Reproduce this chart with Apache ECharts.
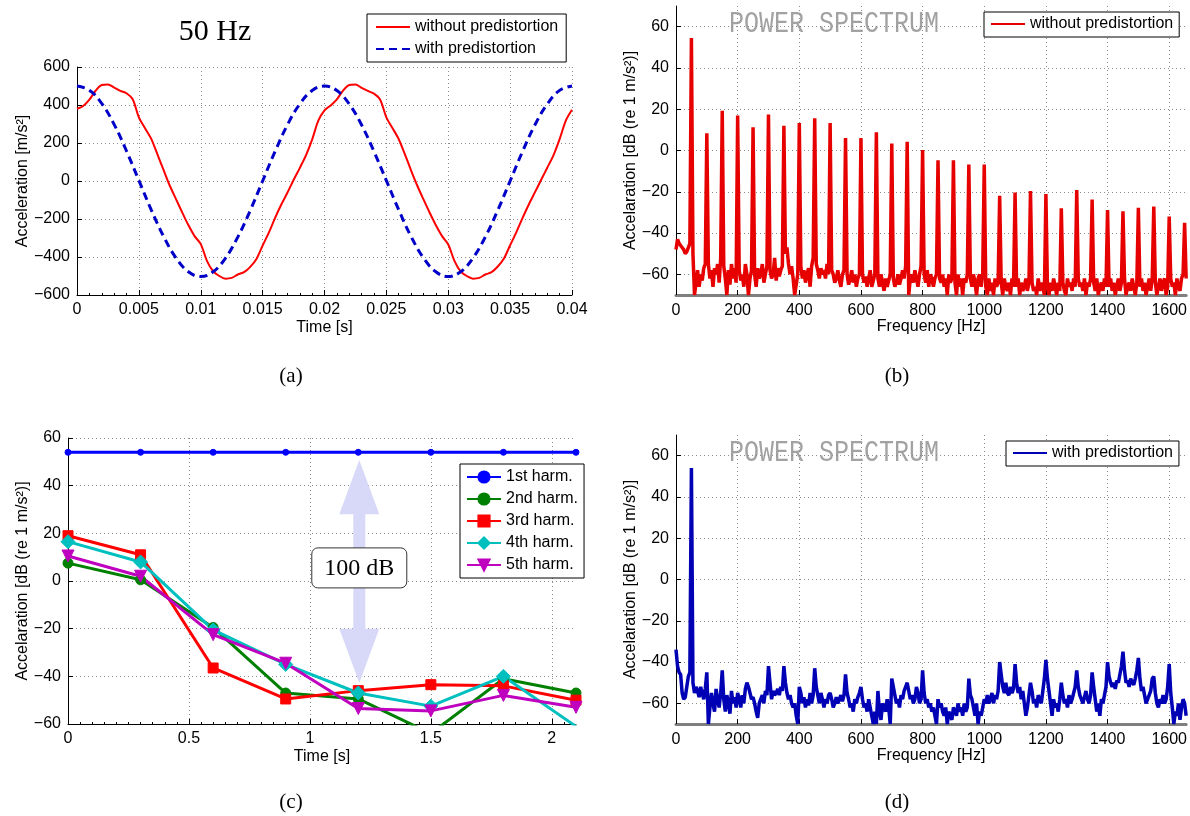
<!DOCTYPE html>
<html>
<head>
<meta charset="utf-8">
<title>Predistortion – time signal, harmonics and power spectra</title>
<script src="https://cdn.jsdelivr.net/npm/echarts@6/dist/echarts.min.js"></script>
<style>
  html, body { margin: 0; padding: 0; background: #fff; }
  #wrap { position: relative; width: 1190px; height: 816px; }
  .panel { position: absolute; width: 595px; height: 408px; }
</style>
</head>
<body>
<div id="wrap">
  <div id="pa" class="panel" style="left:0;top:0"></div>
  <div id="pb" class="panel" style="left:595px;top:0"></div>
  <div id="pc" class="panel" style="left:0;top:408px"></div>
  <div id="pd" class="panel" style="left:595px;top:408px"></div>
</div>
<script>
// ---------- (a) 50 Hz acceleration signal ----------
const timeStepRed = 0.0005;   // s between samples of the uncorrected signal
const timeStepBlue = 0.001;   // s between samples of the predistorted signal
const accelWithout = [
  380, 395, 428, 475, 505, 508, 492, 474, 462, 430,
  335, 278, 222, 140, 57, -25, -95, -165, -232, -290,
  -332, -420, -475, -500, -514, -510, -492, -480, -452, -410,
  -340, -272, -195, -125, -62, 5, 68, 135, 218, 318,
  372, 398, 430, 476, 505, 508, 490, 474, 460, 428,
  335, 278, 220, 140, 55, -25, -97, -167, -233, -290,
  -334, -420, -476, -500, -514, -510, -492, -480, -450, -408,
  -338, -270, -195, -125, -60, 5, 70, 135, 220, 318,
  375
];
const accelWith = [
  500, 478, 408, 298, 158, 3, -152, -292, -405, -478,
  -503, -478, -406, -294, -155, 0, 155, 295, 405, 476,
  500, 476, 405, 295, 155, 2, -152, -293, -405, -478,
  -503, -478, -405, -294, -154, 0, 155, 295, 405, 477,
  500
];
const timeTicksA = [0, 0.005, 0.01, 0.015, 0.02, 0.025, 0.03, 0.035, 0.04];
const accelTicksA = [-600, -400, -200, 0, 200, 400, 600];

// ---------- (c) harmonic levels over time ----------
const harmTimes = [0, 0.3, 0.6, 0.9, 1.2, 1.5, 1.8, 2.1];
const harmNames = ['1st harm.', '2nd harm.', '3rd harm.', '4th harm.', '5th harm.'];
const harm1 = [54, 54, 54, 54, 54, 54, 54, 54];
const harm2 = [7.5, 0.5, -19.5, -47, -49.5, -64, -41, -47];
const harm3 = [19, 11, -36.5, -49.5, -46, -43.5, -44, -50];
const harm4 = [16.5, 8, -20.5, -35, -47, -52.5, -40, -61];
const harm5 = [10.5, 2, -22.5, -34.5, -53.5, -54.5, -48, -53];
const timeTicksC = [0, 0.5, 1, 1.5, 2];
// double arrow at t = 1.2 s: tip, head base, head base, tip, label centre (dB)
const gapArrow = [[1.2, 50.8, 28, -20, -42.8, 5.5]];
const gapLabel = '100 dB';

// ---------- (b)/(d) power spectra, one level every 5 Hz ----------
const specStep = 5;
const freqTicks = [0, 200, 400, 600, 800, 1000, 1200, 1400, 1600];
const dbTicks = [-60, -40, -20, 0, 20, 40, 60];
const specWithout = [
  -48, -43, -45, -46, -47, -48, -50, -49, -47, -45,
  54.5, -50, -70, -70, -58, -66, -60, -63, -57, -55,
  8.4, -55, -62, -58, -66, -57, -60, -55, -64, -52,
  19.3, -56, -62, -70, -58, -65, -55, -62, -57, -64,
  17, -58, -63, -60, -66, -55, -60, -70, -62, -58,
  11.2, -60, -66, -57, -62, -60, -55, -64, -60, -56,
  17.4, -58, -62, -60, -52, -63, -57, -61, -58, -56,
  12, -50, -47, -55, -60, -56, -62, -70, -70, -60,
  13.3, -56, -62, -58, -64, -60, -57, -66, -56, -52,
  15.6, -55, -58, -62, -57, -60, -58, -62, -55, -60,
  13.3, -58, -60, -64, -62, -58, -63, -66, -60, -58,
  6, -60, -65, -62, -58, -64, -60, -66, -62, -60,
  6, -60, -64, -61, -66, -62, -58, -66, -63, -60,
  8.8, -62, -66, -60, -64, -68, -62, -66, -63, -60,
  3.4, -62, -66, -64, -60, -65, -62, -58, -62, -56,
  4.2, -70, -62, -60, -64, -58, -62, -66, -60, -56,
  0.2, -60, -64, -58, -66, -60, -62, -66, -62, -60,
  -4.7, -62, -64, -60, -66, -62, -70, -60, -64, -62,
  -4.7, -64, -70, -60, -66, -62, -70, -62, -64, -60,
  -6.8, -62, -66, -60, -64, -70, -62, -60, -66, -60,
  -6.8, -66, -70, -62, -68, -64, -70, -62, -66, -64,
  -21.9, -64, -70, -62, -66, -68, -64, -70, -62, -66,
  -20.3, -66, -62, -70, -64, -68, -66, -62, -68, -64,
  -19.6, -64, -68, -66, -70, -62, -68, -64, -66, -70,
  -21.1, -66, -70, -64, -68, -62, -66, -70, -64, -68,
  -28, -64, -68, -70, -62, -66, -64, -68, -62, -66,
  -19.1, -62, -66, -64, -68, -62, -70, -64, -66, -62,
  -23.7, -64, -68, -62, -70, -66, -64, -68, -62, -66,
  -28.9, -66, -62, -68, -64, -70, -66, -62, -68, -64,
  -29.5, -62, -70, -66, -64, -68, -62, -66, -70, -64,
  -27.7, -66, -62, -68, -64, -70, -66, -62, -68, -62,
  -27.1, -64, -70, -66, -62, -68, -64, -62, -70, -66,
  -32, -62, -66, -64, -70, -62, -66, -68, -62, -60,
  -35, -62
];
const specWith = [
  -34, -42, -45, -46, -55, -58, -57, -52, -47, -45,
  54, -50, -55, -52, -54, -57, -52, -55, -58, -53,
  -45, -70, -62, -55, -60, -64, -53, -58, -62, -55,
  -44, -58, -64, -56, -60, -65, -54, -60, -57, -62,
  -55, -58, -62, -56, -60, -53, -50, -52, -55, -58,
  -57, -60, -64, -67, -60, -58, -56, -60, -54, -56,
  -42, -50, -58, -54, -56, -55, -53, -56, -52, -54,
  -42, -50, -55, -58, -56, -60, -62, -60, -66, -70,
  -52, -55, -60, -57, -62, -58, -61, -55, -60, -56,
  -43, -52, -56, -60, -55, -58, -62, -58, -60, -56,
  -55, -58, -62, -60, -57, -60, -58, -56, -59, -56,
  -46, -55, -58, -62, -60, -64, -58, -60, -57, -55,
  -52, -58, -62, -60, -64, -58, -62, -66, -70, -64,
  -70, -54, -64, -68, -60, -62, -64, -58, -62, -70,
  -48, -52, -56, -60, -58, -62, -56, -58, -54, -52,
  -50, -54, -58, -56, -60, -58, -52, -55, -60, -58,
  -44, -55, -60, -58, -62, -60, -64, -62, -66, -70,
  -58, -62, -60, -64, -66, -62, -70, -64, -66, -68,
  -62, -64, -66, -60, -64, -62, -66, -60, -64, -62,
  -48, -56, -58, -62, -66, -60, -70, -64, -66, -62,
  -58, -60, -56, -60, -58, -55, -60, -56, -58, -54,
  -40, -46, -52, -55, -50, -55, -56, -52, -55, -53,
  -41, -50, -55, -52, -58, -54, -60, -66, -62, -56,
  -50, -54, -60, -58, -62, -56, -58, -60, -54, -48,
  -39, -48, -54, -60, -66, -58, -62, -60, -64, -58,
  -50, -56, -60, -58, -62, -56, -60, -58, -55, -52,
  -44, -52, -56, -58, -60, -57, -54, -58, -60, -56,
  -45, -52, -58, -64, -60, -66, -58, -60, -56, -52,
  -40, -47, -50, -52, -50, -53, -49, -50, -46, -42,
  -35, -44, -50, -49, -52, -48, -50, -51, -48, -44,
  -38, -48, -54, -52, -56, -60, -58, -56, -54, -48,
  -47, -55, -60, -62, -58, -60, -56, -60, -58, -52,
  -41, -55, -62, -70, -64, -66, -60, -68, -62, -58,
  -60, -66
];

// ---------- shared styling ----------
const SANS = '"Liberation Sans", Arial, Helvetica, sans-serif';
const SERIF = '"Liberation Serif", "Times New Roman", serif';
const MONO = '"Liberation Mono", "Courier New", monospace';

const withMinus = v => String(v).replace('-', '\u2212');
const pairs = (values, step) => values.map((v, i) => [+(i * step).toFixed(6), v]);

function dottedGrid() {
  return { show: true, lineStyle: { color: '#8c8c8c', type: [1, 3], width: 1 } };
}
function valueAxis(o) {
  const ax = {
    type: 'value',
    min: o.min, max: o.max,
    axisLine: { show: true, onZero: false, lineStyle: { color: o.lineColor || '#000', width: o.lineWidth || 1 } },
    axisTick: { show: true, inside: true, length: 5, lineStyle: { color: '#000' }, customValues: o.ticks },
    axisLabel: {
      color: '#000', fontSize: 16, fontFamily: SANS, margin: o.labelMargin || 7,
      customValues: o.ticks, formatter: withMinus
    },
    splitLine: dottedGrid(),
    name: o.name, nameLocation: 'middle', nameGap: o.nameGap, nameMoveOverlap: false,
    nameTextStyle: { color: '#000', fontSize: 16, fontFamily: SANS }
  };
  if (o.minor) ax.minorTick = { show: true, splitNumber: o.minor, length: 2, lineStyle: { color: '#000' } };
  return ax;
}
function boxLegend(o) {
  return {
    orient: 'vertical', left: o.left, top: o.top,
    padding: o.padding, itemWidth: 34, itemHeight: 14, itemGap: 6,
    borderColor: '#000', borderWidth: 1, borderRadius: 0, backgroundColor: '#fff',
    textStyle: { color: '#000', fontSize: 16, fontFamily: SANS },
    data: o.data, selectedMode: false
  };
}
// legend entry that shows only the line sample, without a marker
const lineOnly = name => ({ name: name, itemStyle: { opacity: 0 } });

function caption(text, x, y) {
  return { type: 'text', x: x, y: y,
    style: { text: text, font: '21px ' + SERIF, fill: '#000', align: 'center', verticalAlign: 'middle' } };
}
function watermark(x, y) {
  return { type: 'text', x: x, y: y, scaleY: 1.15, z: 0,
    style: { text: 'POWER SPECTRUM', font: '25px ' + MONO, fill: '#a2a2a2', align: 'center', verticalAlign: 'middle' } };
}

// ---------- (a) ----------
const chartA = echarts.init(document.getElementById('pa'));
chartA.setOption({
  animation: false,
  grid: { left: 77, right: 23, top: 67, height: 228 },
  xAxis: valueAxis({ min: 0, max: 0.04, ticks: timeTicksA, name: 'Time [s]', nameGap: 25, minor: 10 }),
  yAxis: valueAxis({ min: -600, max: 600, ticks: accelTicksA, name: 'Acceleration [m/s\u00b2]', nameGap: 46 }),
  legend: boxLegend({ left: 367, top: 14, padding: [5, 8, 5, 8],
    data: [lineOnly('without predistortion'), lineOnly('with predistortion')] }),
  graphic: [
    { type: 'text', x: 215, y: 32,
      style: { text: '50 Hz', font: '30px ' + SERIF, fill: '#000', align: 'center', verticalAlign: 'middle' } },
    caption('(a)', 291, 376)
  ],
  series: [
    { name: 'without predistortion', type: 'line', data: pairs(accelWithout, timeStepRed),
      showSymbol: false, symbol: 'none', smooth: 0.3,
      lineStyle: { color: '#ff0000', width: 2 }, itemStyle: { color: '#ff0000' } },
    { name: 'with predistortion', type: 'line', data: pairs(accelWith, timeStepBlue),
      showSymbol: false, symbol: 'none', smooth: 0.4,
      lineStyle: { color: '#0000c8', width: 3, type: [8, 5] }, itemStyle: { color: '#0000c8' } }
  ]
});

// ---------- (b) and (d) ----------
function spectrumChart(el, o) {
  const chart = echarts.init(document.getElementById(el));
  chart.setOption({
    animation: false,
    grid: { left: 81, right: 3, top: o.top, height: 289 },
    xAxis: valueAxis({ min: 0, max: 1655, ticks: freqTicks, name: 'Frequency [Hz]', nameGap: 24,
      lineColor: '#7f7f7f', lineWidth: 3, labelMargin: 8 }),
    yAxis: valueAxis({ min: -70, max: 70, ticks: dbTicks,
      name: 'Accelaration [dB (re 1 m/s\u00b2)]', nameGap: 37 }),
    legend: boxLegend({ left: o.legendLeft, top: o.legendTop, padding: [4, 6, 5, 6], data: [lineOnly(o.name)] }),
    graphic: [ watermark(239, o.markY), caption(o.caption, 302, o.captionY) ],
    series: [
      { name: o.name, type: 'line', data: pairs(o.values, specStep),
        showSymbol: false, symbol: 'none', clip: true,
        lineStyle: { color: o.color, width: 3.5 }, itemStyle: { color: o.color } }
    ]
  });
  return chart;
}
spectrumChart('pb', { top: 6, name: 'without predistortion', values: specWithout, color: '#e60000',
  legendLeft: 389, legendTop: 12, markY: 24, caption: '(b)', captionY: 376 });

// ---------- (c) ----------
const harmStyles = [
  { data: harm1, color: '#0000ff', symbol: 'circle', size: 6, rotate: 0 },
  { data: harm2, color: '#008000', symbol: 'circle', size: 10, rotate: 0 },
  { data: harm3, color: '#ff0000', symbol: 'rect', size: 10, rotate: 0 },
  { data: harm4, color: '#00bfbf', symbol: 'diamond', size: 14, rotate: 0 },
  { data: harm5, color: '#bf00bf', symbol: 'triangle', size: 12, rotate: 180 }
];
const chartC = echarts.init(document.getElementById('pc'));
chartC.setOption({
  animation: false,
  grid: { left: 68, right: 19, top: 30, height: 286 },
  xAxis: valueAxis({ min: 0, max: 2.1, ticks: timeTicksC, name: 'Time [s]', nameGap: 25, minor: 10 }),
  yAxis: valueAxis({ min: -60, max: 60, ticks: dbTicks, name: 'Accelaration [dB (re 1 m/s\u00b2)]', nameGap: 37 }),
  legend: boxLegend({ left: 460, top: 56, padding: [5, 6, 5, 6], data: harmNames }),
  graphic: [ caption('(c)', 291, 394) ],
  series: [
    {
      type: 'custom', name: 'gap', data: gapArrow, z: 1, silent: true,
      renderItem(params, api) {
        const x = api.value(0);
        const tip = api.coord([x, api.value(1)]);
        const b1 = api.coord([x, api.value(2)]);
        const b2 = api.coord([x, api.value(3)]);
        const tip2 = api.coord([x, api.value(4)]);
        const mid = api.coord([x, api.value(5)]);
        const cx = tip[0] + 1, hw = 20, sw = 6;
        return {
          type: 'group',
          children: [
            { type: 'polygon', shape: { points: [
                [cx, tip[1]], [cx + hw, b1[1]], [cx + sw, b1[1]], [cx + sw, b2[1]], [cx + hw, b2[1]],
                [cx, tip2[1]], [cx - hw, b2[1]], [cx - sw, b2[1]], [cx - sw, b1[1]], [cx - hw, b1[1]]
              ] },
              style: { fill: '#d8d8f8' } },
            { type: 'rect', shape: { x: cx - 47.5, y: mid[1] - 20, width: 95, height: 40, r: 6 },
              style: { fill: '#fff', stroke: '#333', lineWidth: 1 } },
            { type: 'text', style: { text: gapLabel, x: cx, y: mid[1] + 1, align: 'center',
                verticalAlign: 'middle', font: '24px ' + SERIF, fill: '#000' } }
          ]
        };
      }
    }
  ].concat(harmStyles.map((s, i) => ({
    name: harmNames[i], type: 'line', z: 3,
    data: harmTimes.map((t, k) => [t, s.data[k]]),
    symbol: s.symbol, symbolSize: s.size, symbolRotate: s.rotate, showSymbol: true, clip: true,
    lineStyle: { color: s.color, width: 3 },
    itemStyle: { color: s.color, borderColor: s.color, borderWidth: 1 }
  })))
});

// ---------- (d) ----------
spectrumChart('pd', { top: 27, name: 'with predistortion', values: specWith, color: '#0000b4',
  legendLeft: 411, legendTop: 33, markY: 45, caption: '(d)', captionY: 394 });
</script>
</body>
</html>
